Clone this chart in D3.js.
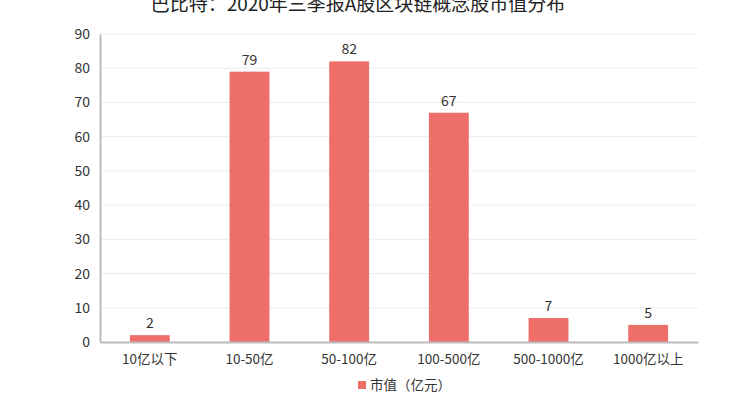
<!DOCTYPE html>
<html><head><meta charset="utf-8">
<script src="https://cdn.jsdelivr.net/npm/d3@7"></script>
<style>body{margin:0;background:#fff}svg{display:block}text{font-family:"Noto Sans CJK SC","Microsoft YaHei",sans-serif}</style>
</head><body><svg id="c" width="749" height="408"></svg>
<script>
const title = "巴比特：2020年三季报A股区块链概念股市值分布";
const categories = ["10亿以下","10-50亿","50-100亿","100-500亿","500-1000亿","1000亿以上"];
const values = [2,79,82,67,7,5];
const seriesName = "市值（亿元）";
const yTicks = [0,10,20,30,40,50,60,70,80,90];

const svg = d3.select("#c");
const m = {l:100, r:698, t:34, b:342};
const x = d3.scaleBand().domain(categories).range([m.l, m.r]).paddingInner(0.6).paddingOuter(0.3);
const y = d3.scaleLinear().domain([0,90]).range([m.b, m.t]);
const color = "#ee6e69";

svg.append("text").attr("x", 358).attr("y", 11).attr("text-anchor","middle")
  .attr("font-size", 19).attr("fill","#222").text(title);

svg.append("g").selectAll("line").data(yTicks.slice(1)).join("line")
  .attr("x1", m.l).attr("x2", m.r).attr("y1", d=>y(d)).attr("y2", d=>y(d))
  .attr("stroke","#ececec").attr("stroke-width",1);

const ya = svg.append("g").attr("transform",`translate(${m.l},0)`)
  .call(d3.axisLeft(y).tickValues(yTicks).tickSize(0).tickPadding(10));
ya.select(".domain").attr("stroke","#bbb").attr("stroke-width",2);
ya.selectAll("text").attr("font-size",14).attr("fill","#333").attr("font-family",'"Noto Sans CJK SC",sans-serif');

svg.append("g").selectAll("rect").data(values).join("rect")
  .attr("x",(d,i)=>x(categories[i])).attr("width",x.bandwidth())
  .attr("y",d=>y(d)).attr("height",d=>y(0)-y(d)).attr("fill",color);

svg.append("g").selectAll("text").data(values).join("text")
  .attr("x",(d,i)=>x(categories[i])+x.bandwidth()/2).attr("y",d=>y(d)-7)
  .attr("text-anchor","middle").attr("font-size",14).attr("fill","#333").text(d=>d);

const xa = svg.append("g").attr("transform",`translate(0,${m.b})`)
  .call(d3.axisBottom(x).tickSize(0).tickPadding(12));
xa.select(".domain").attr("stroke","#bbb").attr("stroke-width",2);
xa.selectAll("text").attr("font-size",13.5).attr("fill","#333").attr("font-family",'"Noto Sans CJK SC",sans-serif');

const lg = svg.append("g");
lg.append("rect").attr("x",358).attr("y",381).attr("width",8).attr("height",8).attr("fill",color);
lg.append("text").attr("x",370).attr("y",390).attr("font-size",13.5).attr("fill","#333").text(seriesName);
</script></body></html>
